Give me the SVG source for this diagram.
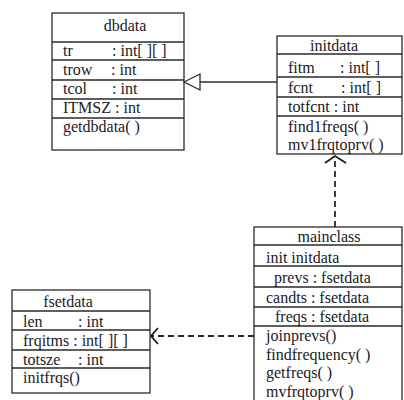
<svg xmlns="http://www.w3.org/2000/svg" width="404" height="400" viewBox="0 0 404 400">
<style>
.box{fill:#fff;stroke:#2a2a2a;stroke-width:1.3}
.ln{stroke:#2a2a2a;stroke-width:1.3;fill:none}
text{font-family:"Liberation Serif","Times New Roman",serif;font-size:16px;fill:#1a1a28}
.t{text-anchor:middle}
.dash{stroke:#2a2a2a;stroke-width:1.8;fill:none;stroke-dasharray:6 4}
.arr{stroke:#1a1a1a;stroke-width:1.8;fill:none}
</style>
<rect width="404" height="400" fill="#fff"/>
<g id="dbdata">
<rect class="box" x="52" y="13" width="132" height="137"/>
<path class="ln" d="M52 42H184M52 60H184M52 80H184M52 99H184M52 118H184"/>
<text class="t" x="125" y="31">dbdata</text>
<text x="63" y="56">tr</text><text x="112" y="56">: int[ ][ ]</text>
<text x="63" y="75">trow</text><text x="111" y="75">: int</text>
<text x="63" y="94">tcol</text><text x="112" y="94">: int</text>
<text x="63" y="113">ITMSZ : int</text>
<text x="63" y="132">getdbdata( )</text>
</g>
<g id="initdata">
<rect class="box" x="277" y="36" width="125" height="118"/>
<path class="ln" d="M277 54H402M277 77H402M277 97H402M277 116H402"/>
<text class="t" x="334" y="51">initdata</text>
<text x="288" y="73">fitm</text><text x="340" y="73">: int[ ]</text>
<text x="288" y="93">fcnt</text><text x="341" y="93">: int[ ]</text>
<text x="288" y="112">totfcnt : int</text>
<text x="288" y="132">find1freqs( )</text>
<text x="288" y="150">mv1frqtoprv( )</text>
</g>
<g id="mainclass">
<rect class="box" x="254" y="227" width="148" height="180"/>
<path class="ln" d="M254 245H402M254 266H402M254 287H402M254 307H402M254 326H402"/>
<text class="t" x="329" y="242">mainclass</text>
<text x="266" y="263">init initdata</text>
<text x="274" y="283">prevs : fsetdata</text>
<text x="266" y="303">candts : fsetdata</text>
<text x="275" y="322">freqs : fsetdata</text>
<text x="266" y="341">joinprevs()</text>
<text x="266" y="360">findfrequency( )</text>
<text x="266" y="378">getfreqs( )</text>
<text x="266" y="397">mvfrqtoprv( )</text>
</g>
<g id="fsetdata">
<rect class="box" x="12" y="290" width="138" height="103"/>
<path class="ln" d="M12 311H150M12 330H150M12 350H150M12 368H150"/>
<text class="t" x="68" y="307">fsetdata</text>
<text x="23" y="327">len</text><text x="78" y="327">: int</text>
<text x="23" y="346">frqitms : int[ ][ ]</text>
<text x="23" y="365">totsze</text><text x="78" y="365">: int</text>
<text x="23" y="383">initfrqs()</text>
</g>
<g id="connectors">
<path class="ln" d="M200 82H277"/>
<path class="ln" d="M184 82L200 74V90Z" fill="#fff"/>
<path class="dash" d="M335 227V157"/>
<path class="arr" d="M325 163L335 156L346 163"/>
<path class="dash" d="M254 336H152"/>
<path class="arr" d="M158 328L151 336L158 344"/>
</g>
</svg>
